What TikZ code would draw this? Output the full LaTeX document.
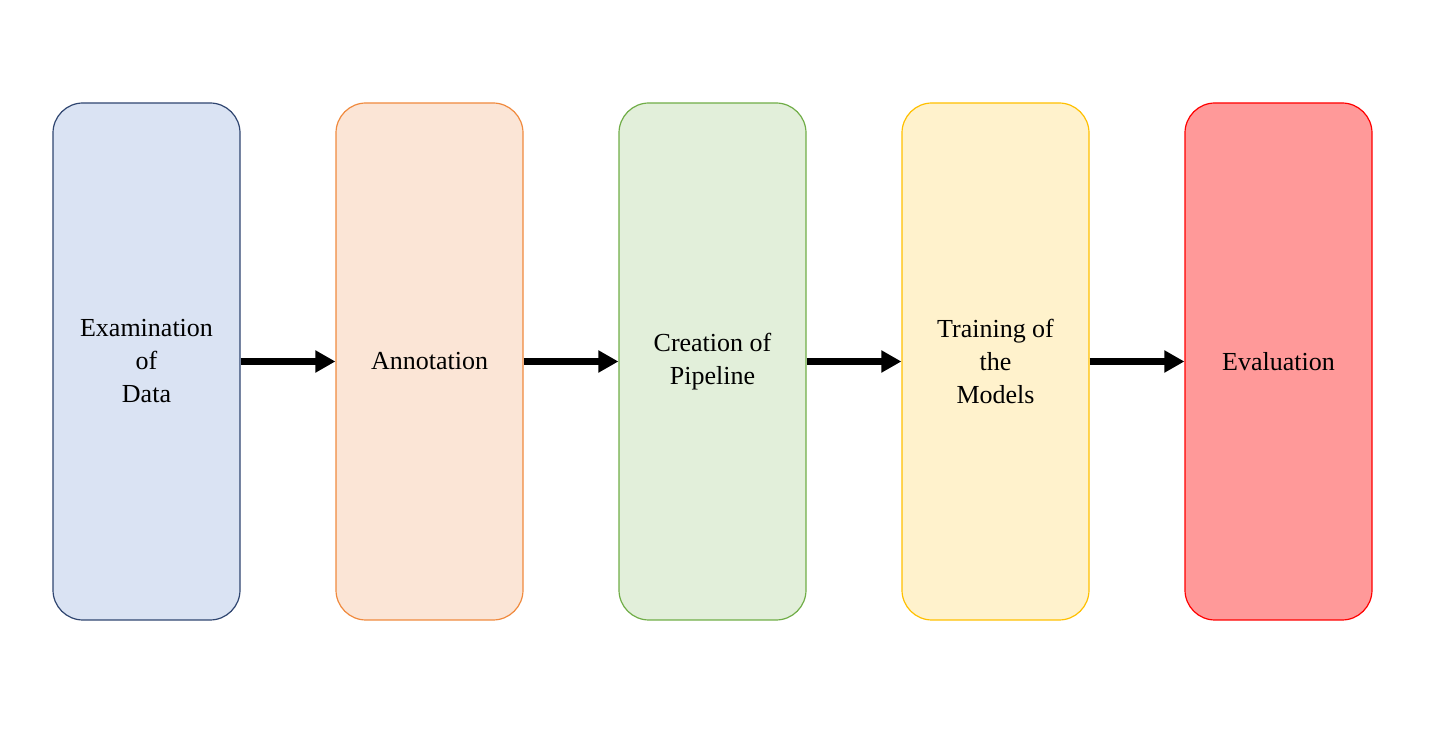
\documentclass[tikz,border=0pt]{standalone}
\usepackage{fontspec}
\setmainfont{Liberation Serif}
\usetikzlibrary{arrows.meta}
\definecolor{bfill}{HTML}{DAE3F3}\definecolor{bdraw}{HTML}{2F4570}
\definecolor{ofill}{HTML}{FBE5D6}\definecolor{odraw}{HTML}{F08A3E}
\definecolor{gfill}{HTML}{E2EFDA}\definecolor{gdraw}{HTML}{70AD47}
\definecolor{yfill}{HTML}{FFF2CC}\definecolor{ydraw}{HTML}{FFC000}
\definecolor{rfill}{HTML}{FF9999}\definecolor{rdraw}{HTML}{FF0000}
\tikzset{
  stage/.style={rounded corners=15pt, minimum width=93.5pt, minimum height=258.5pt,
    inner sep=0pt, line width=0.6pt, align=center,
    font=\fontsize{13}{16.5}\selectfont},
  flow/.style={line width=3.4pt, -{Triangle[length=10pt,width=10.5pt]}}
}
\begin{document}
\begin{tikzpicture}[x=0.5pt,y=-0.5pt]
\useasboundingbox (0,0) rectangle (1437,732);
\node[stage, fill=bfill, draw=bdraw] (a) at (146.5,361.5) {Examination\\of\\Data};
\node[stage, fill=ofill, draw=odraw] (b) at (429.5,361.5) {Annotation};
\node[stage, fill=gfill, draw=gdraw] (c) at (712.5,361.5) {Creation of\\Pipeline};
\node[stage, fill=yfill, draw=ydraw] (d) at (995.5,361.5) {Training of\\the\\Models};
\node[stage, fill=rfill, draw=rdraw] (e) at (1278.5,361.5) {Evaluation};
\draw[flow] (a.east) -- (b.west);
\draw[flow] (b.east) -- (c.west);
\draw[flow] (c.east) -- (d.west);
\draw[flow] (d.east) -- (e.west);
\end{tikzpicture}
\end{document}
